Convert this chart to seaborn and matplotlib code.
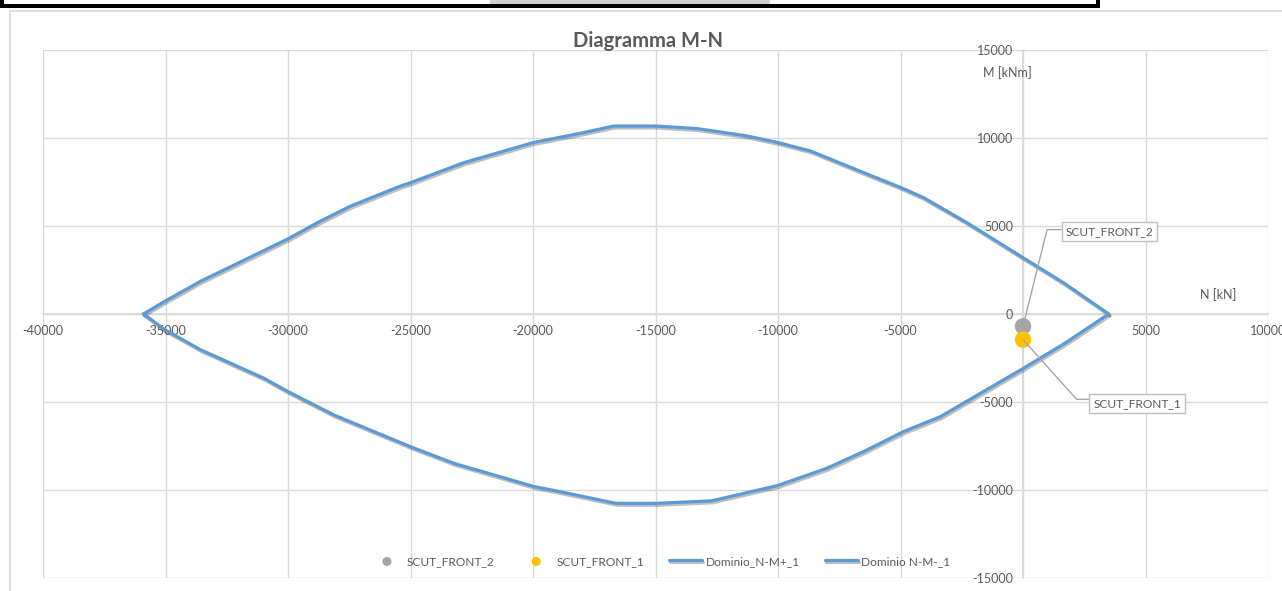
import matplotlib
matplotlib.use('Agg')
import matplotlib.pyplot as plt
import matplotlib.patheffects as pe
from matplotlib.patches import Rectangle
import seaborn as sns

# Domain N-M (upper branch, M+)
n_plus = [-35900, -35030, -33570, -30990, -30000, -28810, -27450, -25410,
          -25000, -22820, -19990, -18060, -16700, -15000, -13300, -11260,
          -10000, -8670, -6500, -4970, -4050, -2280, 0, 1665, 3500]
m_plus = [0, 720, 1860, 3600, 4270, 5180, 6130, 7270,
          7460, 8600, 9740, 10270, 10680, 10680, 10535, 10115,
          9740, 9260, 8030, 7175, 6605, 5180, 3200, 1765, 0]

# Domain N-M (lower branch, M-)
n_minus = [-35900, -35030, -33570, -30990, -30000, -28130, -25000, -23230,
           -19970, -18880, -16600, -14960, -12700, -10010, -8010, -6450,
           -4890, -3370, 0, 1665, 3500]
m_minus = [0, -890, -2030, -3645, -4410, -5735, -7540, -8485,
           -9800, -10100, -10760, -10760, -10615, -9745, -8765, -7780,
           -6690, -5830, -3100, -1700, 0]

# Sollecitazioni
scut2_n, scut2_m = [0], [-700]
scut1_n, scut1_m = [0], [-1460]

x_ticks = list(range(-40000, 10001, 5000))
y_ticks = list(range(-15000, 15001, 5000))

BLUE = '#5B9BD5'
GREY = '#A5A5A5'
YELLOW = '#FFC000'
TXT = '#595959'
GRID = '#D9D9D9'

sns.set_theme(style='white')
plt.rcParams['font.family'] = ['Lato', 'DejaVu Sans']

W, H = 1282, 591
fig = plt.figure(figsize=(W / 100, H / 100), dpi=100)

# spreadsheet fragments around the chart
fig.patches.append(Rectangle((0, (H - 8) / H), 1100 / W, 8 / H,
                             transform=fig.transFigure, fc='black', ec='none'))
fig.patches.append(Rectangle((4 / W, (H - 4) / H), 1092 / W, 4 / H,
                             transform=fig.transFigure, fc='white', ec='none'))
fig.patches.append(Rectangle((490 / W, (H - 4) / H), 280 / W, 4 / H,
                             transform=fig.transFigure, fc='#D0D0D0', ec='none'))
fig.patches.append(Rectangle((10 / W, -0.05), 1.2, (H - 11) / H + 0.05,
                             transform=fig.transFigure, fill=False,
                             ec=GRID, lw=1.2))

ax = fig.add_axes([43 / W, 13 / H, 1225 / W, 528 / H])
ax.patch.set_alpha(0)

shadow = [pe.SimpleLineShadow(offset=(0.8, -1.4), alpha=0.25, shadow_color='black'),
          pe.Normal()]

sns.scatterplot(x=scut2_n, y=scut2_m, color=GREY, s=140, edgecolor='none',
                label='SCUT_FRONT_2', ax=ax, zorder=4)
sns.scatterplot(x=scut1_n, y=scut1_m, color=YELLOW, s=140, edgecolor='none',
                label='SCUT_FRONT_1', ax=ax, zorder=4)
sns.lineplot(x=n_plus, y=m_plus, sort=False, estimator=None, color=BLUE, lw=2.3,
             label='Dominio_N-M+_1', ax=ax, path_effects=shadow, zorder=3)
sns.lineplot(x=n_minus, y=m_minus, sort=False, estimator=None, color=BLUE, lw=2.3,
             label='Dominio N-M-_1', ax=ax, path_effects=shadow, zorder=3)

ax.set_xlim(-40000, 10000)
ax.set_ylim(-15000, 15000)
ax.set_xticks(x_ticks)
ax.set_xticklabels([str(v) for v in x_ticks])
ax.set_yticks(y_ticks)
ax.set_yticklabels([str(v) for v in y_ticks])
ax.grid(True, color=GRID, lw=1)
ax.set_axisbelow(True)

for side in ['top', 'right']:
    ax.spines[side].set_visible(False)
ax.spines['bottom'].set_position(('data', 0))
ax.spines['left'].set_position(('data', 0))
ax.spines['bottom'].set_color(GRID)
ax.spines['left'].set_color(GRID)
ax.spines['bottom'].set_zorder(0.5)
ax.spines['left'].set_zorder(0.5)
ax.tick_params(axis='x', length=0, pad=8, labelsize=9, labelcolor=TXT)
ax.tick_params(axis='y', length=0, pad=7, labelsize=9, labelcolor=TXT)
for lab in ax.get_xticklabels() + ax.get_yticklabels():
    lab.set_clip_on(False)

ax.set_xlabel('')
ax.set_ylabel('')
ax.text(0.787, 0.958, 'M [kNm]', transform=ax.transAxes, ha='center',
        va='center', fontsize=9, color=TXT)
ax.text(0.959, 0.536, 'N [kN]', transform=ax.transAxes, ha='center',
        va='center', fontsize=9, color=TXT)

box = dict(boxstyle='square,pad=0.32', fc='white', ec='#BFBFBF', lw=1)
ax.annotate('SCUT_FRONT_2', xy=(scut2_n[0], scut2_m[0]), xytext=(3531, 4670),
            textcoords='data', ha='center', va='center', fontsize=8.6, color=TXT,
            bbox=box, zorder=6,
            arrowprops=dict(arrowstyle='-', color='#A6A6A6', lw=1,
                            relpos=(0, 0.7), shrinkA=0, shrinkB=0,
                            connectionstyle='angle,angleA=180,angleB=76,rad=0'))
ax.annotate('SCUT_FRONT_1', xy=(scut1_n[0], scut1_m[0]), xytext=(4661, -5068),
            textcoords='data', ha='center', va='center', fontsize=8.6, color=TXT,
            bbox=box, zorder=6,
            arrowprops=dict(arrowstyle='-', color='#A6A6A6', lw=1,
                            relpos=(0, 0.85), shrinkA=0, shrinkB=0,
                            connectionstyle='angle,angleA=180,angleB=-48,rad=0'))

leg = ax.legend(loc='center', bbox_to_anchor=(0.504, 0.032), ncol=4,
                frameon=False, fontsize=8.6, labelcolor=TXT, markerscale=0.55,
                handlelength=2.75, columnspacing=2.1, handletextpad=0.3)

fig.text(0.5055, 1 - 41 / H, 'Diagramma M-N', ha='center', va='center',
         fontsize=14.5, fontweight='bold', color=TXT)

fig.savefig('out.png', dpi=100)
